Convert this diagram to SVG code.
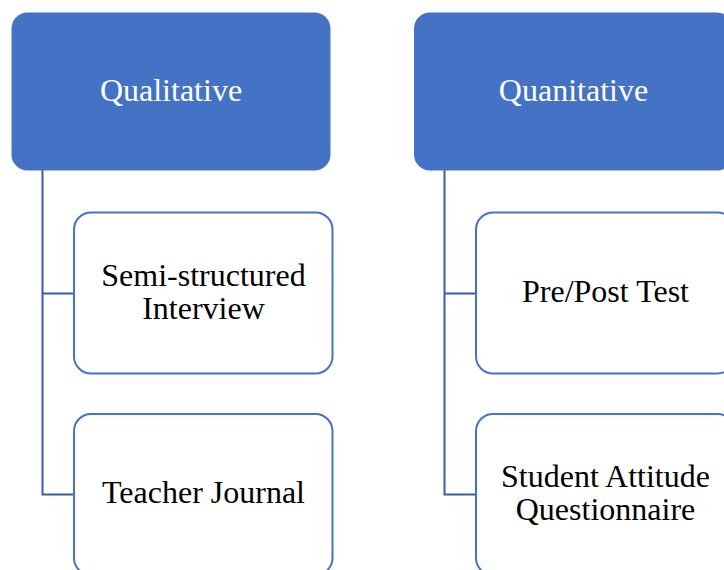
<svg xmlns="http://www.w3.org/2000/svg" width="724" height="570" viewBox="0 0 724 570">
<style>
.hdr{fill:#4472C4;}
.child{fill:#FFFFFF;stroke:#4472C4;stroke-width:2;}
.conn{fill:none;stroke:#3A5DA6;stroke-width:2;}
.ht{font-family:"Liberation Serif","Times New Roman",serif;font-size:32px;fill:#FFFFFF;text-anchor:middle;}
.ct{font-family:"Liberation Serif","Times New Roman",serif;font-size:32px;fill:#000000;text-anchor:middle;}
</style>
<rect width="724" height="570" fill="#FFFFFF"/>
<g id="connectors">
<path class="conn" d="M42.5,170 V494.5 H74 M42.5,293.5 H74"/>
<path class="conn" d="M444.5,170 V494.5 H476 M444.5,293.5 H476"/>
</g>
<g id="qualitative">
<rect class="hdr" x="11.5" y="12.5" width="319" height="158" rx="16"/>
<text class="ht" x="171" y="100.5">Qualitative</text>
</g>
<g id="quanitative">
<rect class="hdr" x="414" y="12.5" width="319" height="158" rx="16"/>
<text class="ht" x="573.5" y="100.5">Quanitative</text>
</g>
<g id="semi-structured-interview">
<rect class="child" x="74" y="212.5" width="258.5" height="161" rx="17"/>
<text class="ct" x="203.5" y="286">Semi-structured</text>
<text class="ct" x="203.5" y="318.5">Interview</text>
</g>
<g id="teacher-journal">
<rect class="child" x="74" y="414" width="258.5" height="161" rx="17"/>
<text class="ct" x="203.5" y="503">Teacher Journal</text>
</g>
<g id="pre-post-test">
<rect class="child" x="476" y="212.5" width="258.5" height="161" rx="17"/>
<text class="ct" x="605.5" y="302">Pre/Post Test</text>
</g>
<g id="student-attitude-questionnaire">
<rect class="child" x="476" y="414" width="258.5" height="161" rx="17"/>
<text class="ct" x="605.5" y="487">Student Attitude</text>
<text class="ct" x="605.5" y="519.5">Questionnaire</text>
</g>
</svg>
